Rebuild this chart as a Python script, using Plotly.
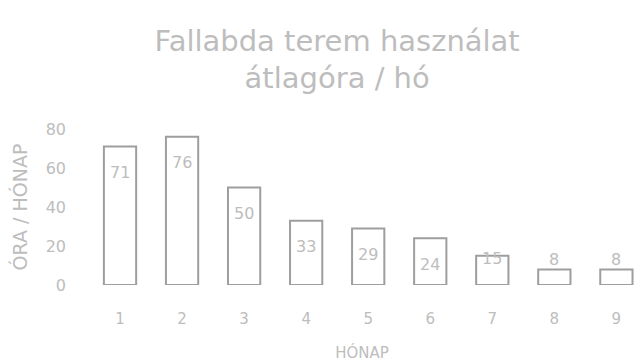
import plotly.graph_objects as go

# Monthly average usage of the squash court (hours per month)
months = [1, 2, 3, 4, 5, 6, 7, 8, 9]
hours = [71, 76, 50, 33, 29, 24, 15, 8, 8]
y_ticks = [0, 20, 40, 60, 80]

title_text = "Fallabda terem használat<br>átlagóra / hó"
x_title = "HÓNAP"
y_title = "ÓRA / HÓNAP"

TEXT = "#bdbdbd"
LINE = "#9e9e9e"
FONT = "DejaVu Sans"

W, H = 635, 362
M_L, M_R, M_T, M_B = 89, 0, 129, 77
Y_MAX = 80
px_per_unit = (H - M_T - M_B) / Y_MAX

fig = go.Figure()
fig.add_trace(go.Bar(
    x=months,
    y=hours,
    width=0.52,
    marker=dict(color="white", line=dict(color=LINE, width=2)),
    hoverinfo="skip",
))

# value labels: near the top inside tall bars, above the short ones
for m, v in zip(months, hours):
    h_px = v * px_per_unit
    if h_px > 40:
        shift = -26
    elif h_px > 20:
        shift = -3
    else:
        shift = 10
    fig.add_annotation(
        x=m, y=v, text=str(v), showarrow=False, yshift=shift,
        font=dict(family=FONT, size=16, color=TEXT),
    )

fig.update_layout(
    width=W, height=H,
    margin=dict(l=M_L, r=M_R, t=M_T, b=M_B),
    paper_bgcolor="white", plot_bgcolor="white",
    showlegend=False,
    title=dict(
        text=title_text, x=0.531, xanchor="center", y=0.86, yanchor="middle",
        font=dict(family=FONT, size=29, color=TEXT),
    ),
    xaxis=dict(
        range=[0.5, 9.3], tickvals=months, ticktext=[str(m) for m in months],
        showgrid=False, zeroline=False, showline=False, ticks="",
        ticklabelstandoff=23,
        tickfont=dict(family=FONT, size=15, color=TEXT),
        title=dict(text=x_title, standoff=20,
                   font=dict(family=FONT, size=15, color=TEXT)),
    ),
    yaxis=dict(
        range=[0, Y_MAX], tickvals=y_ticks,
        showgrid=False, zeroline=False, showline=False, ticks="",
        ticklabelstandoff=22,
        tickfont=dict(family=FONT, size=16, color=TEXT),
        title=dict(text=y_title, standoff=12,
                   font=dict(family=FONT, size=19, color=TEXT)),
    ),
)

fig.write_html("out.html")
